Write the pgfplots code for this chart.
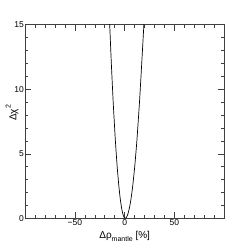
\documentclass[border=0pt]{standalone}
\usepackage{fontspec}
\setmainfont{Liberation Sans}
\usepackage{pgfplots}
\pgfplotsset{compat=1.18}
\begin{document}
\begin{tikzpicture}
\useasboundingbox (-25pt,-24.7pt) rectangle (224pt,218.3pt);
\begin{axis}[
  at={(0pt,0pt)}, anchor=south west,
  scale only axis, width=199.3pt, height=193.6pt,
  xmin=-100, xmax=100, ymin=0, ymax=15,
  xtick={-50,0,50}, xticklabels={−50,0,50},
  minor xtick={-90,-80,-70,-60,-40,-30,-20,-10,10,20,30,40,60,70,80,90},
  ytick={0,5,10,15},
  minor ytick={1,2,3,4,6,7,8,9,11,12,13,14},
  tick align=inside, tick pos=both,
  major tick length=6.5pt, minor tick length=3.5pt,
  every tick/.style={black!75, line width=0.5pt},
  every minor tick/.style={black!75, line width=0.5pt},
  axis line style={black!75, line width=0.5pt},
  /pgf/number format/assume math mode=true,
  tick label style={font=\fontsize{8.5}{9}\selectfont},
  xticklabel style={inner sep=1pt, yshift=-0.5pt},
  yticklabel style={inner sep=1pt},
  xlabel={Δρ\raisebox{-0.7ex}{\fontsize{7}{8}\selectfont mantle} [\%]},
  ylabel={Δχ\raisebox{1.1ex}{\fontsize{7}{8}\selectfont 2}},
  label style={font=\fontsize{10}{12}\selectfont},
  xlabel style={at={(axis description cs:0.5,-0.102)}, anchor=base},
  ylabel style={at={(axis description cs:-0.065,0.545)}, anchor=center},
  clip=true,
]
\addplot[black, line width=0.7pt, smooth, tension=0.3] coordinates {
(-15.25,15.5) (-14.99,15) (-13.36,12) (-11.5,9) (-9.3,6) (-7.5,4)
(-5.82,2.5) (-4.4,1.5) (-3.08,0.8) (-1.69,0.3) (-0.39,0.05) (0.5,0)
(1.57,0.05) (3.13,0.3) (4.79,0.8) (6.38,1.5) (8.09,2.5) (10.1,4)
(12.26,6) (14.9,9) (17.13,12) (19.3,15) (19.55,15.5)
};
\end{axis}
\end{tikzpicture}
\end{document}
